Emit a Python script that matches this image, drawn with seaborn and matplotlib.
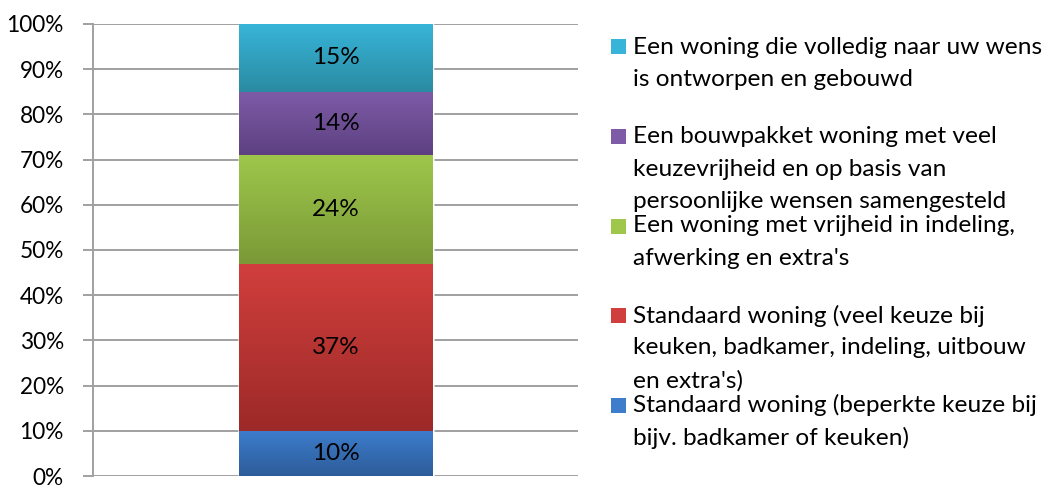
import numpy as np
import pandas as pd
import matplotlib
matplotlib.use("Agg")
import matplotlib.pyplot as plt
from matplotlib.colors import LinearSegmentedColormap
from matplotlib.patches import Rectangle
import seaborn as sns

# data, bottom segment first
segments = [
    "Standaard woning (beperkte keuze bij\nbijv. badkamer of keuken)",
    "Standaard woning (veel keuze bij\nkeuken, badkamer, indeling, uitbouw\nen extra's)",
    "Een woning met vrijheid in indeling,\nafwerking en extra's",
    "Een bouwpakket woning met veel\nkeuzevrijheid en op basis van\npersoonlijke wensen samengesteld",
    "Een woning die volledig naar uw wens\nis ontworpen en gebouwd",
]
shares = [10, 37, 24, 14, 15]
top_colors = ["#3D7DCC", "#D03F3D", "#9EC74B", "#7E5BA7", "#38B4D8"]
bottom_colors = ["#2D5C9A", "#9C2A28", "#7A9937", "#5D4181", "#2A8BA2"]
yticks = list(range(0, 101, 10))

sns.set_style("white")
plt.rcParams["font.family"] = ["Lato", "DejaVu Sans"]
FS = 16.3
FS_LEG = 17.6

df = pd.DataFrame({"segment": segments, "share": shares})
df["top"] = df["share"].cumsum()
df["bottom"] = df["top"] - df["share"]

fig = plt.figure(figsize=(10.48, 4.86), dpi=100)
ax = fig.add_axes([93 / 1048, 1 - 476 / 486, (578 - 93) / 1048, (476 - 24) / 486])

# stacked bar: tallest cumulative first, each shorter one drawn on top
for i in reversed(range(len(df))):
    sns.barplot(x=[""], y=[df["top"][i]], color=top_colors[i], width=0.4,
                saturation=1, ax=ax, zorder=2)

patches = list(ax.patches)[::-1]  # back to bottom-first order
grad = np.linspace(0, 1, 128)[:, None]
for i, p in enumerate(patches):
    cmap = LinearSegmentedColormap.from_list(f"g{i}", [bottom_colors[i], top_colors[i]])
    x0, w = p.get_x(), p.get_width()
    ax.imshow(grad, extent=(x0, x0 + w, df["bottom"][i], df["top"][i]), origin="lower",
              cmap=cmap, aspect="auto", zorder=3 + i * 0.01, interpolation="bilinear")
    ax.text(x0 + w / 2, (df["bottom"][i] + df["top"][i]) / 2, f"{shares[i]}%",
            ha="center", va="center", fontsize=17.5, color="black", zorder=5)

ax.set_xlim(-0.5, 0.5)
ax.set_ylim(0, 100)
ax.set_yticks(yticks)
ax.set_yticklabels([f"{t}%" for t in yticks], fontsize=FS, color="black")
ax.set_xticks([])
ax.set_xlabel("")
ax.set_ylabel("")
ax.yaxis.grid(True, color="#A0A0A0", lw=1.4)
ax.set_axisbelow(True)
for s in ["top", "right", "bottom"]:
    ax.spines[s].set_visible(False)
ax.spines["left"].set_color("#A0A0A0")
ax.spines["left"].set_linewidth(1.4)
ax.tick_params(axis="y", left=True, length=7, width=1.4, color="#A0A0A0", pad=14)

# legend, top entry first
line_h = 32.5
entry_h = 89.5
for k, i in enumerate(reversed(range(len(df)))):
    y_first = 47 + k * entry_h
    fig.patches.append(Rectangle((611 / 1048, 1 - (y_first + 7.5) / 486), 15 / 1048, 15 / 486,
                                 transform=fig.transFigure, color=top_colors[i], lw=0))
    for j, line in enumerate(segments[i].split("\n")):
        fig.text(633 / 1048, 1 - (y_first + j * line_h) / 486, line,
                 ha="left", va="center", fontsize=FS_LEG, color="black")

fig.savefig("out.png", dpi=100)
